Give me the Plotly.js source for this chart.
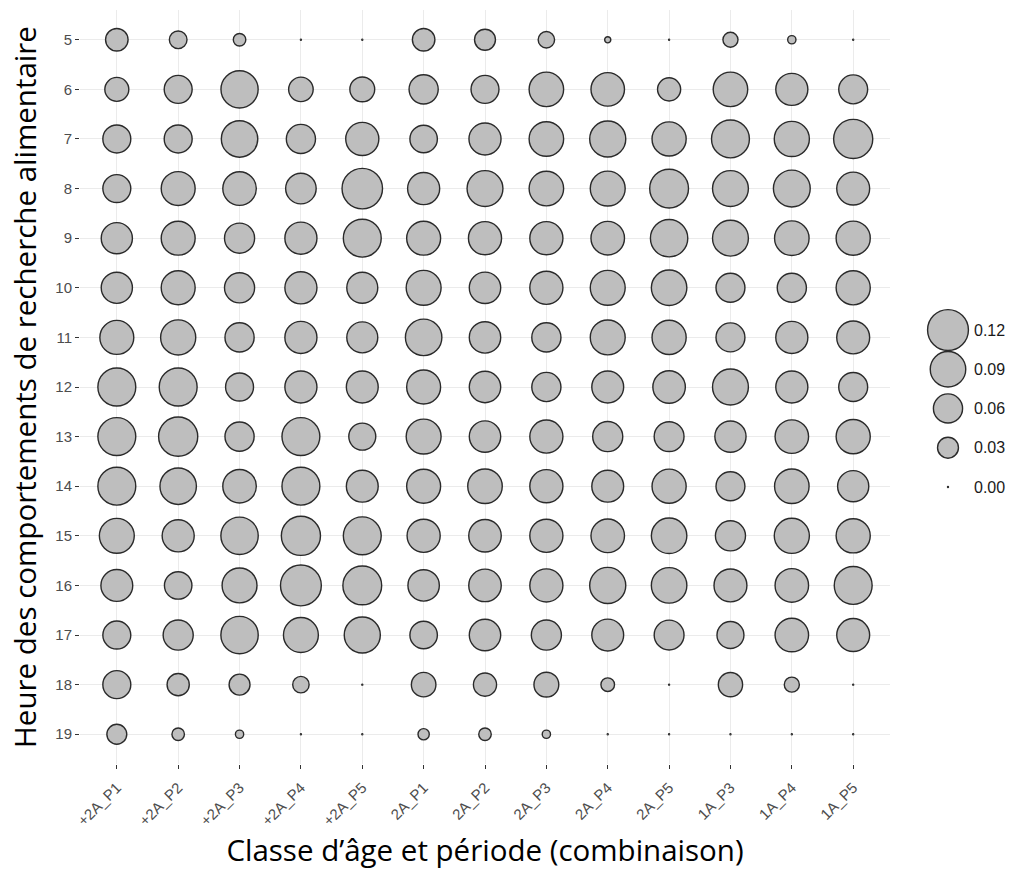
<!DOCTYPE html>
<html lang="fr">
<head>
<meta charset="utf-8">
<title>Heure des comportements de recherche alimentaire</title>
<script src="https://cdn.plot.ly/plotly-3.0.1.min.js"></script>
<style>
  html, body { margin: 0; padding: 0; background: #ffffff; }
  #chart { width: 1019px; height: 879px; }
</style>
</head>
<body>
<div id="chart"></div>
<script>
// Hours of the day (rows) and age-class / period combinations (columns)
const hours = [5, 6, 7, 8, 9, 10, 11, 12, 13, 14, 15, 16, 17, 18, 19];
const categories = ['+2A_P1', '+2A_P2', '+2A_P3', '+2A_P4', '+2A_P5',
                    '2A_P1', '2A_P2', '2A_P3', '2A_P4', '2A_P5',
                    '1A_P3', '1A_P4', '1A_P5'];

// Share of foraging behaviour per hour, one array per combination (hours 5 -> 19)
const plus2A_P1 = [0.035, 0.040, 0.055, 0.055, 0.069, 0.069, 0.082, 0.103, 0.103, 0.103, 0.087, 0.072, 0.055, 0.055, 0.027];
const plus2A_P2 = [0.021, 0.055, 0.055, 0.082, 0.082, 0.082, 0.088, 0.103, 0.110, 0.095, 0.073, 0.053, 0.064, 0.034, 0.010];
const plus2A_P3 = [0.010, 0.099, 0.095, 0.080, 0.064, 0.064, 0.060, 0.055, 0.060, 0.080, 0.100, 0.087, 0.100, 0.030, 0.004];
const plus2A_P4 = [0.000, 0.042, 0.060, 0.066, 0.073, 0.073, 0.073, 0.073, 0.103, 0.103, 0.110, 0.120, 0.087, 0.018, 0.000];
const plus2A_P5 = [0.000, 0.043, 0.078, 0.118, 0.103, 0.068, 0.068, 0.072, 0.051, 0.072, 0.103, 0.108, 0.093, 0.000, 0.000];
const a2A_P1    = [0.035, 0.060, 0.053, 0.073, 0.082, 0.087, 0.095, 0.082, 0.087, 0.082, 0.078, 0.070, 0.053, 0.042, 0.008];
const a2A_P2    = [0.030, 0.055, 0.073, 0.092, 0.078, 0.070, 0.070, 0.070, 0.070, 0.085, 0.075, 0.075, 0.070, 0.037, 0.010];
const a2A_P3    = [0.018, 0.085, 0.085, 0.085, 0.078, 0.078, 0.060, 0.060, 0.078, 0.078, 0.078, 0.078, 0.064, 0.043, 0.004];
const a2A_P4    = [0.002, 0.080, 0.093, 0.087, 0.080, 0.087, 0.087, 0.072, 0.064, 0.072, 0.080, 0.093, 0.072, 0.012, 0.000];
const a2A_P5    = [0.000, 0.037, 0.083, 0.108, 0.100, 0.090, 0.083, 0.075, 0.063, 0.083, 0.090, 0.090, 0.063, 0.000, 0.000];
const a1A_P3    = [0.015, 0.085, 0.103, 0.092, 0.092, 0.059, 0.059, 0.092, 0.069, 0.059, 0.064, 0.077, 0.051, 0.041, 0.000];
const a1A_P4    = [0.004, 0.073, 0.088, 0.097, 0.085, 0.060, 0.073, 0.073, 0.080, 0.085, 0.088, 0.080, 0.080, 0.015, 0.000];
const a1A_P5    = [0.000, 0.059, 0.110, 0.077, 0.083, 0.083, 0.077, 0.059, 0.083, 0.069, 0.083, 0.103, 0.077, 0.000, 0.000];

// Size key
const legendBreaks = ['0.12', '0.09', '0.06', '0.03', '0.00'];

const columns = [plus2A_P1, plus2A_P2, plus2A_P3, plus2A_P4, plus2A_P5,
                 a2A_P1, a2A_P2, a2A_P3, a2A_P4, a2A_P5,
                 a1A_P3, a1A_P4, a1A_P5];

// Area scale: diameter grows with the square root of the share
const SIZE_MIN = 1.0;
const SIZE_SPAN = 115;
function bubbleSize(v) { return SIZE_MIN + SIZE_SPAN * Math.sqrt(v); }

const xs = [], ys = [], vals = [];
categories.forEach((cat, i) => {
  hours.forEach((h, j) => {
    xs.push(cat);
    ys.push(h);
    vals.push(columns[i][j]);
  });
});

const markerStyle = {
  color: '#bebebe',
  line: { color: '#2a2a2a', width: 1.4 },
  sizemode: 'diameter',
  opacity: 1
};

const bubbles = {
  type: 'scatter',
  mode: 'markers',
  x: xs,
  y: ys,
  customdata: vals,
  hovertemplate: '%{x}<br>%{y} h : %{customdata}<extra></extra>',
  marker: Object.assign({}, markerStyle, { size: vals.map(bubbleSize) }),
  xaxis: 'x',
  yaxis: 'y',
  showlegend: false,
  cliponaxis: false
};

const key = {
  type: 'scatter',
  mode: 'markers',
  x: legendBreaks.map(() => 0),
  y: legendBreaks,
  marker: Object.assign({}, markerStyle, { size: legendBreaks.map(b => bubbleSize(Number(b))) }),
  xaxis: 'x2',
  yaxis: 'y2',
  hoverinfo: 'skip',
  showlegend: false,
  cliponaxis: false
};

const tickFont = { family: 'Liberation Sans, Arial, sans-serif', size: 15, color: '#4d4d4d' };
const titleFont = { family: 'Open Sans, sans-serif', size: 29.5, color: '#000000' };

const layout = {
  width: 1019,
  height: 879,
  margin: { l: 80, r: 20, t: 10, b: 115 },
  paper_bgcolor: '#ffffff',
  plot_bgcolor: '#ffffff',
  showlegend: false,
  xaxis: {
    type: 'category',
    categoryorder: 'array',
    categoryarray: categories,
    domain: [0, 0.8814],
    range: [-0.6, categories.length - 0.4],
    showgrid: true,
    gridcolor: '#ebebeb',
    gridwidth: 1.1,
    zeroline: false,
    showline: false,
    ticks: 'outside',
    ticklen: 4,
    tickwidth: 1.3,
    tickcolor: '#333333',
    tickangle: -45,
    ticklabelstandoff: 4,
    tickfont: tickFont,
    title: { text: 'Classe d’âge et période (combinaison)', font: titleFont, standoff: 12 },
    fixedrange: true
  },
  yaxis: {
    type: 'linear',
    range: [hours[hours.length - 1] + 0.6, hours[0] - 0.6],
    tickvals: hours,
    ticktext: hours.map(String),
    showgrid: true,
    gridcolor: '#ebebeb',
    gridwidth: 1.1,
    zeroline: false,
    showline: false,
    ticks: 'outside',
    ticklen: 4,
    tickwidth: 1.3,
    tickcolor: '#333333',
    tickfont: tickFont,
    title: { text: 'Heure des comportements de recherche alimentaire', font: titleFont, standoff: 9 },
    fixedrange: true
  },
  xaxis2: {
    domain: [0.9173, 0.9717],
    range: [-1, 1],
    anchor: 'y2',
    visible: false,
    fixedrange: true
  },
  yaxis2: {
    type: 'category',
    categoryorder: 'array',
    categoryarray: legendBreaks,
    domain: [0.3414, 0.6016],
    range: [legendBreaks.length - 0.5, -0.5],
    anchor: 'x2',
    side: 'right',
    showgrid: false,
    zeroline: false,
    showline: false,
    ticks: '',
    tickfont: { family: 'Liberation Sans, Arial, sans-serif', size: 16, color: '#1a1a1a' },
    fixedrange: true
  }
};

Plotly.newPlot('chart', [bubbles, key], layout, { displayModeBar: false });
</script>
</body>
</html>
